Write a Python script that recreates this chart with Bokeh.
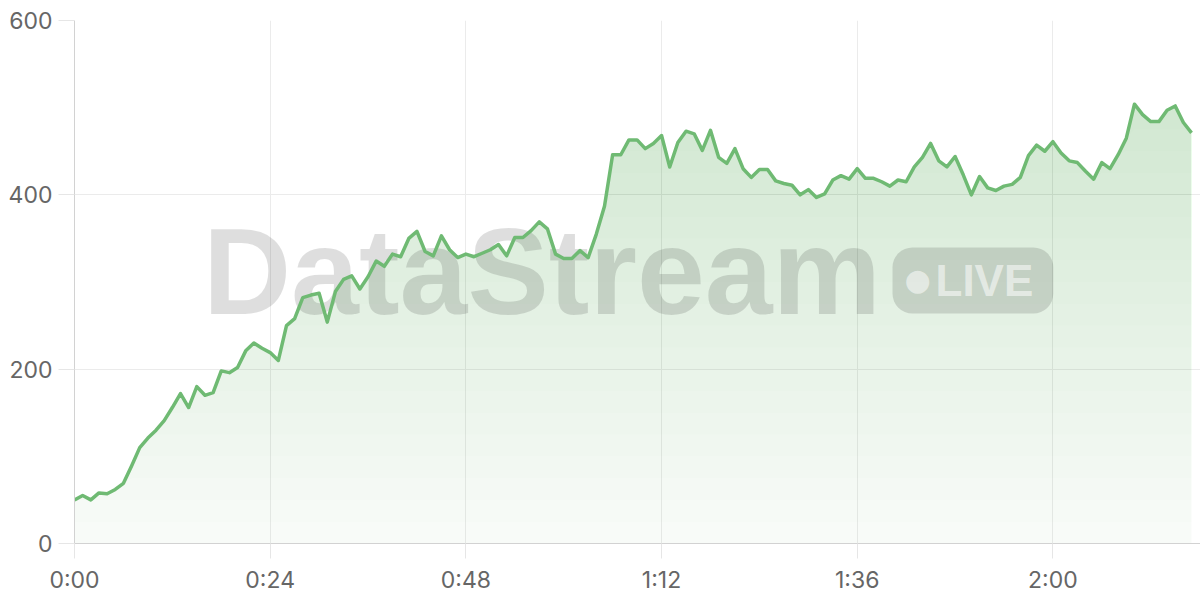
import numpy as np
from bokeh.plotting import figure
from bokeh.models import FixedTicker, Label, Range1d
from bokeh.core.properties import value
from bokeh.embed import file_html
from bokeh.resources import INLINE

# ---- data (one point per minute) ----
minutes = list(range(138))
viewers = [
    50, 55, 50, 58, 57, 62, 69, 89, 110, 121,
    130, 141, 156, 172, 156, 180, 170, 173, 198, 196,
    202, 221, 230, 224, 219, 210, 250, 258, 282, 285,
    287, 254, 289, 303, 307, 292, 306, 324, 318, 332,
    329, 350, 358, 335, 330, 353, 337, 328, 332, 329,
    333, 337, 343, 330, 351, 351, 359, 369, 361, 332,
    327, 327, 336, 328, 355, 387, 446, 446, 463, 463,
    453, 459, 468, 432, 460, 473, 470, 451, 474, 443,
    436, 453, 430, 420, 429, 429, 416, 413, 411, 400,
    406, 397, 401, 417, 422, 418, 430, 419, 419, 415,
    410, 417, 415, 432, 443, 459, 439, 432, 444, 423,
    400, 421, 408, 405, 410, 412, 420, 445, 457, 450,
    461, 448, 439, 437, 427, 418, 437, 430, 446, 465,
    504, 492, 484, 484, 497, 502, 483, 471,
]
x_ticks = [0, 24, 48, 72, 96, 120]
x_tick_labels = ["0:00", "0:24", "0:48", "1:12", "1:36", "2:00"]
y_ticks = [0, 200, 400, 600]

GREEN = "#6fba73"
X0, X1 = 0, 138.1
Y0, Y1 = 0, 600

p = figure(width=1200, height=600, x_range=Range1d(X0, X1), y_range=Range1d(Y0, Y1),
           output_backend="svg", toolbar_location=None,
           min_border_left=74, min_border_right=0, min_border_top=20, min_border_bottom=57)
p.outline_line_color = None
p.background_fill_color = "white"
p.border_fill_color = "white"

# axes
p.xaxis.ticker = FixedTicker(ticks=x_ticks)
p.xaxis.major_label_overrides = {t: l for t, l in zip(x_ticks, x_tick_labels)}
p.yaxis.ticker = FixedTicker(ticks=y_ticks)
p.xgrid.ticker = FixedTicker(ticks=x_ticks)
p.ygrid.ticker = FixedTicker(ticks=y_ticks)
p.axis.minor_tick_line_color = None
p.axis.axis_line_color = "#d2d2d2"
p.axis.major_tick_line_color = "#e6e6e6"
p.axis.major_tick_in = 0
p.xaxis.major_tick_out = 15
p.yaxis.major_tick_out = 16
p.axis.major_label_standoff = 6
p.xaxis.major_label_standoff = 7
p.axis.major_label_text_font = "Inter"
p.axis.major_label_text_font_size = "23px"
p.axis.major_label_text_color = "#666666"
p.grid.grid_line_color = "#ebebeb"

# gradient area: stacked layers, more opaque higher up
n_layers = 24
vals = np.array(viewers, dtype=float)
for k in range(n_layers):
    lo = Y0 + (Y1 - Y0) * k / n_layers
    p.varea(x=minutes, y1=np.minimum(vals, lo), y2=vals,
            fill_color=GREEN, fill_alpha=0.05 if k == 0 else 0.0132)

# watermark
x_mid = (X0 + X1) / 2
y_mid = (Y0 + Y1) / 2
p.text(x=[x_mid], y=[y_mid], text=["DataStream"], x_offset=-434.5, y_offset=-9.8,
       text_font=value("Liberation Sans"), text_font_style="bold", text_font_size="122px",
       text_color="black", text_alpha=0.13, text_align="left", text_baseline="middle")

# line
p.line(minutes, viewers, line_color=GREEN, line_width=3.5, line_join="round")

pill = Label(x=x_mid, y=y_mid, x_offset=255, y_offset=1.5, text="LIVE",
             text_font="Liberation Sans", text_font_style="bold", text_font_size="44px",
             text_color="white", text_alpha=0.55, text_align="left", text_baseline="alphabetic",
             background_fill_color="black", background_fill_alpha=0.13,
             padding=dict(top=8, right=20, bottom=9, left=43), border_radius=20)
p.add_layout(pill)
dot = Label(x=x_mid, y=y_mid, x_offset=280, y_offset=2.8, text="●",
            text_font="DejaVu Sans", text_font_size="30px",
            text_color="white", text_alpha=0.55, text_align="center", text_baseline="middle")
p.add_layout(dot)

open("out.html", "w").write(file_html(p, INLINE))
